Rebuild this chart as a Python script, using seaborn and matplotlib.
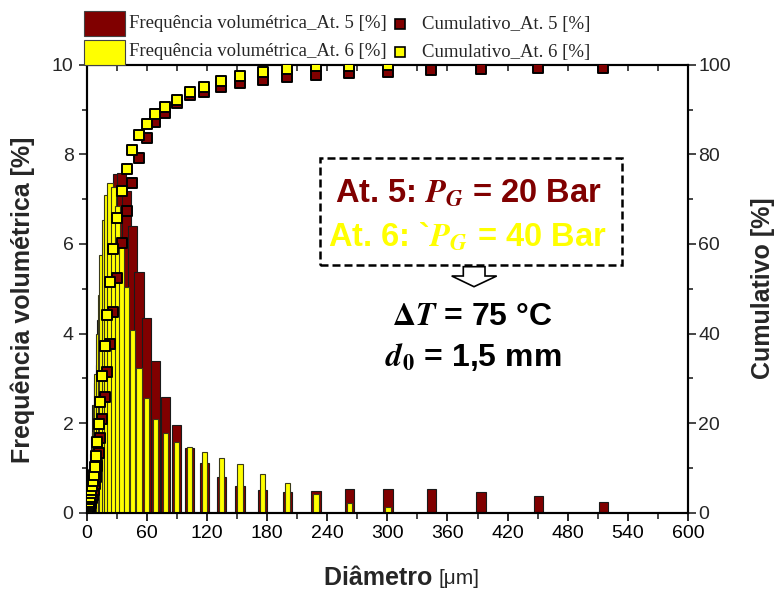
import numpy as np
import pandas as pd
import matplotlib
matplotlib.use("Agg")
import matplotlib.pyplot as plt
import seaborn as sns
from matplotlib.patches import Rectangle, Polygon
from matplotlib.lines import Line2D
from matplotlib.ticker import MultipleLocator

# ---------------- data ----------------
diameter = [1.19, 1.37, 1.57, 1.79, 2.05, 2.35, 2.69, 3.07, 3.52, 4.03,
            4.61, 5.28, 6.04, 6.9, 7.9, 9.05, 10.4, 11.9, 13.6, 15.5,
            17.8, 20.3, 23.3, 26.6, 30.5, 34.9, 39.9, 45.7, 52.3, 59.8,
            68.5, 78.4, 89.7, 102.7, 117.5, 134.5, 152.8, 175.5, 200.3, 229.0,
            262.0, 300.8, 343.9, 393.4, 450.8, 515.6]

freq_at5 = [0.10, 0.10, 0.10, 0.15, 0.15, 0.20, 0.25, 0.30, 0.35, 0.40,
            0.50, 0.60, 0.80, 1.00, 1.30, 1.70, 2.40, 2.90, 3.30, 4.30,
            4.90, 5.50, 6.40, 7.20, 7.55, 7.58, 7.17, 6.40, 5.38, 4.34,
            3.39, 2.59, 1.96, 1.45, 1.10, 0.80, 0.60, 0.51, 0.47, 0.49,
            0.52, 0.54, 0.52, 0.46, 0.37, 0.25]

freq_at6 = [0.20, 0.25, 0.30, 0.35, 0.40, 0.45, 0.50, 0.55, 0.60, 0.70,
            0.80, 0.90, 1.10, 1.40, 1.80, 2.40, 3.10, 4.00, 4.86, 5.75,
            6.53, 7.09, 7.35, 7.28, 6.85, 6.08, 5.04, 4.08, 3.22, 2.55,
            2.10, 1.79, 1.58, 1.47, 1.35, 1.23, 1.08, 0.86, 0.66, 0.42,
            0.22, 0.13, 0.0, 0.0, 0.0, 0.0]

cum_at5 = [0.1, 0.2, 0.3, 0.45, 0.6, 0.8, 1.05, 1.35, 1.7, 2.1,
           2.6, 3.2, 4.0, 5.0, 6.3, 8.0, 10.4, 13.3, 16.6, 20.9,
           25.8, 31.3, 37.7, 44.9, 52.5, 60.3, 67.3, 73.7, 79.1, 83.6,
           87.1, 89.3, 91.4, 93.2, 94.0, 95.1, 96.0, 96.6, 97.3, 97.7,
           98.1, 98.4, 98.8, 99.0, 99.2, 99.3]

cum_at6 = [0.2, 0.45, 0.75, 1.1, 1.5, 1.95, 2.45, 3.0, 3.6, 4.3,
           5.1, 6.0, 7.1, 8.5, 10.3, 12.7, 15.8, 19.8, 24.8, 30.5,
           37.1, 44.1, 51.4, 58.8, 65.7, 71.7, 76.8, 81.0, 84.2, 86.7,
           89.0, 90.6, 92.1, 93.8, 95.1, 96.4, 97.5, 98.3, 99.0, 99.6,
           99.7, 99.9, np.nan, np.nan, np.nan, np.nan]

legend_labels = ["Frequência volumétrica_At. 5 [%]", "Frequência volumétrica_At. 6 [%]",
                 "Cumulativo_At. 5 [%]", "Cumulativo_At. 6 [%]"]
x_label_main = "Diâmetro"
x_label_unit = "[μm]"
y_label_left = "Frequência volumétrica [%]"
y_label_right = "Cumulativo [%]"
note_at5 = r"At. 5: $\mathbfit{P}_{\mathbfit{G}}$ = 20 Bar"
note_at6 = r"At. 6: `$\mathbfit{P}_{\mathbfit{G}}$ = 40 Bar"
note_dt = r"$\mathbf{\Delta}\mathbfit{T}$ = 75 °C"
note_d0 = r"$\mathbfit{d}_{\mathbf{0}}$ = 1,5 mm"

# ---------------- style ----------------
sns.set_style("ticks")
plt.rcParams['font.family'] = ['Liberation Sans', 'DejaVu Sans']
plt.rcParams['mathtext.fontset'] = 'stix'

C5 = '#800000'
C6 = '#FFFF00'

W, H = 779, 596
fig = plt.figure(figsize=(W / 100, H / 100), dpi=100)


def fx(px):
    return px / W


def fy(py):
    return 1 - py / H


L, R, T, B = 86.7, 688.0, 64.7, 512.7
ax = fig.add_axes([fx(L), fy(B), fx(R) - fx(L), fy(T) - fy(B)])
ax2 = ax.twinx()

df = pd.DataFrame({"d": diameter, "f5": freq_at5, "f6": freq_at6,
                   "c5": cum_at5, "c6": cum_at6})

d5 = df[df.f5 > 0]
d6 = df[df.f6 > 0]
ax.bar(d5.d, d5.f5, width=9.5, color=C5, edgecolor='#1a1a1a', linewidth=0.8, zorder=2)
ax.bar(d6.d, d6.f6, width=5.5, color=C6, edgecolor='#3a3a1a', linewidth=0.8, zorder=3)

sns.scatterplot(data=df, x="d", y="c5", ax=ax2, marker='s', s=58, color=C5,
                edgecolor='black', linewidth=1.4, zorder=4, legend=False)
sns.scatterplot(data=df.dropna(subset=["c6"]), x="d", y="c6", ax=ax2, marker='s', s=58,
                color=C6, edgecolor='black', linewidth=1.4, zorder=5, legend=False)

ax.set_xlim(0, 600)
ax.set_ylim(0, 10)
ax2.set_ylim(0, 100)
ax.set_xlabel("")
ax.set_ylabel("")
ax2.set_xlabel("")
ax2.set_ylabel("")

ax.xaxis.set_major_locator(MultipleLocator(60))
ax.xaxis.set_minor_locator(MultipleLocator(30))
ax.yaxis.set_major_locator(MultipleLocator(2))
ax.yaxis.set_minor_locator(MultipleLocator(1))
ax2.yaxis.set_major_locator(MultipleLocator(20))
ax2.yaxis.set_minor_locator(MultipleLocator(10))

for a in (ax, ax2):
    for s in a.spines.values():
        s.set_linewidth(1.5)
        s.set_color('black')
        s.set_visible(True)

ax.tick_params(axis='x', which='major', direction='out', length=5.5, width=1.2,
               labelsize=14, pad=3, bottom=True, top=False, colors='black')
ax.tick_params(axis='x', which='minor', direction='out', length=4, width=1.2,
               bottom=True, top=False)
ax.tick_params(axis='y', which='major', direction='out', length=5.5, width=1.2,
               labelsize=14, pad=4, left=True, right=False)
ax.tick_params(axis='y', which='minor', direction='out', length=3.5, width=1.2,
               left=True, right=False)
ax2.tick_params(axis='y', which='major', direction='out', length=5.5, width=1.2,
                labelsize=14, pad=2, right=True, left=False)
ax2.tick_params(axis='y', which='minor', direction='out', length=3.5, width=1.2,
                right=True, left=False)
# top axis ticks pointing inward
ax2.xaxis.set_visible(True)
ax2.xaxis.tick_top()
ax2.tick_params(axis='x', which='both', direction='in', length=4, width=1.2,
                labeltop=False, labelbottom=False, top=True, bottom=False)

# ---------------- axis titles ----------------
fig.text(fx(439), fy(578), x_label_main + " ", fontsize=18, fontweight='bold',
         ha='right', va='center')
fig.text(fx(439), fy(579), x_label_unit, fontsize=15, ha='left', va='center')
fig.text(fx(23), fy(300), y_label_left, fontsize=18, fontweight='bold',
         rotation=90, ha='center', va='center')
fig.text(fx(763), fy(288), y_label_right, fontsize=18, fontweight='bold',
         rotation=90, ha='center', va='center')

# ---------------- legend (manual, above the plot) ----------------
leg_font = dict(family=['Liberation Serif', 'DejaVu Serif'], fontsize=13.5)
fig.add_artist(Rectangle((fx(84), fy(36)), fx(125) - fx(84), fy(11) - fy(36),
                         transform=fig.transFigure, facecolor=C5, edgecolor='#444444', lw=0.8))
fig.add_artist(Rectangle((fx(84), fy(65)), fx(125) - fx(84), fy(40) - fy(65),
                         transform=fig.transFigure, facecolor=C6, edgecolor='#444444', lw=0.8))
fig.text(fx(129), fy(24), legend_labels[0], ha='left', va='center', **leg_font)
fig.text(fx(129), fy(52), legend_labels[1], ha='left', va='center', **leg_font)
fig.add_artist(Line2D([fx(400)], [fy(24)], marker='s', markersize=7, mfc=C5, mec='black',
                      mew=1.2, transform=fig.transFigure))
fig.add_artist(Line2D([fx(400)], [fy(52)], marker='s', markersize=7, mfc=C6, mec='black',
                      mew=1.2, transform=fig.transFigure))
fig.text(fx(422), fy(24), legend_labels[2], ha='left', va='center', **leg_font)
fig.text(fx(422), fy(52), legend_labels[3], ha='left', va='center', **leg_font)

# ---------------- annotation box ----------------
fig.add_artist(Rectangle((fx(320), fy(265)), fx(622) - fx(320), fy(158) - fy(265),
                         transform=fig.transFigure, facecolor='white', edgecolor='black',
                         lw=1.8, linestyle=(0, (3.2, 1.6)), zorder=6))
fig.text(fx(468), fy(193), note_at5, color=C5, fontsize=23.5, fontweight='bold',
         ha='center', va='center', zorder=7)
fig.text(fx(467), fy(237), note_at6, color=C6, fontsize=23.5, fontweight='bold',
         ha='center', va='center', zorder=7)
arrow_px = [(463.3, 266.7), (485.0, 266.7), (485.0, 276.0), (496.7, 276.0),
            (474.0, 286.7), (451.7, 276.0), (463.3, 276.0)]
fig.add_artist(Polygon([(fx(a), fy(b)) for a, b in arrow_px], closed=True,
                       transform=fig.transFigure, facecolor='white', edgecolor='black',
                       lw=1.2, zorder=6))
fig.text(fx(472), fy(317), note_dt, color='black', fontsize=23, fontweight='bold',
         ha='center', va='center', zorder=7)
fig.text(fx(473), fy(357), note_d0, color='black', fontsize=23, fontweight='bold',
         ha='center', va='center', zorder=7)

fig.savefig("out.png", dpi=100)
